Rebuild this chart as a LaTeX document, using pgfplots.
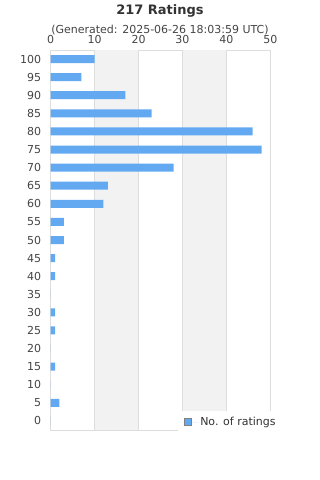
\documentclass[border=0pt]{standalone}
\usepackage{fontspec}
\setmainfont{DejaVu Sans}
\usepackage{pgfplots}
\pgfplotsset{compat=1.18}
\definecolor{barblue}{HTML}{63A9F2}
\definecolor{band}{HTML}{F2F2F2}
\definecolor{gridc}{HTML}{DDDDDD}
\definecolor{txt}{HTML}{444444}
\definecolor{ttl}{HTML}{333333}
\begin{document}
\begin{tikzpicture}
\begin{axis}[
  width=219.6pt, height=380pt, scale only axis,
  xbar, bar width=8pt,
  xmin=0, xmax=50, ymin=-2.5, ymax=102.5,
  xtick={0,10,...,50}, ytick={0,5,...,100},
  xticklabel pos=right,
  major tick length=0,
  xmajorgrids, grid style={gridc, line width=0.8pt},
  axis line style={gridc, line width=0.8pt},
  tick label style={font=\fontsize{11}{13}\selectfont, text=txt},
  /pgf/number format/assume math mode=true,
  xticklabel style={yshift=3pt},
  yticklabel style={xshift=-6pt},
  legend style={at={(0.58,0.05)}, anchor=north west, fill=white, draw=none,
    font=\fontsize{11}{13}\selectfont, text=ttl, inner xsep=4pt, inner ysep=4pt},
  legend image code/.code={\draw[fill=barblue, draw=gray, line width=0.6pt] (2pt,-3.5pt) rectangle (9pt,3.5pt); \path (0pt,0pt) -- (16pt,0pt);},
  legend cell align=left,
]
\fill[band] (axis cs:10,-2.5) rectangle (axis cs:20,102.5);
\fill[band] (axis cs:30,-2.5) rectangle (axis cs:40,102.5);
\draw[gridc, line width=0.8pt] (axis cs:10,-2.5) -- (axis cs:10,102.5);
\draw[gridc, line width=0.8pt] (axis cs:20,-2.5) -- (axis cs:20,102.5);
\draw[gridc, line width=0.8pt] (axis cs:30,-2.5) -- (axis cs:30,102.5);
\draw[gridc, line width=0.8pt] (axis cs:40,-2.5) -- (axis cs:40,102.5);
\addplot[fill=barblue, draw=none] coordinates {
(0,0) (2,5) (0,10) (1,15) (0,20) (1,25) (1,30) (0,35) (1,40) (1,45)
(3,50) (3,55) (12,60) (13,65) (28,70) (48,75) (46,80) (23,85) (17,90) (7,95) (10,100)
};
\addlegendentry{No. of ratings}
\end{axis}
\node[font=\bfseries\fontsize{13}{15}\selectfont, text=ttl] at (109.3pt,419pt) {217 Ratings};
\node[font=\fontsize{11}{13}\selectfont, text=txt] at (109.3pt,400pt) {(Generated: 2025-06-26 18:03:59 UTC)};
\useasboundingbox (-50.7pt,-50pt) rectangle (269.3pt,430pt);
\end{tikzpicture}
\end{document}
